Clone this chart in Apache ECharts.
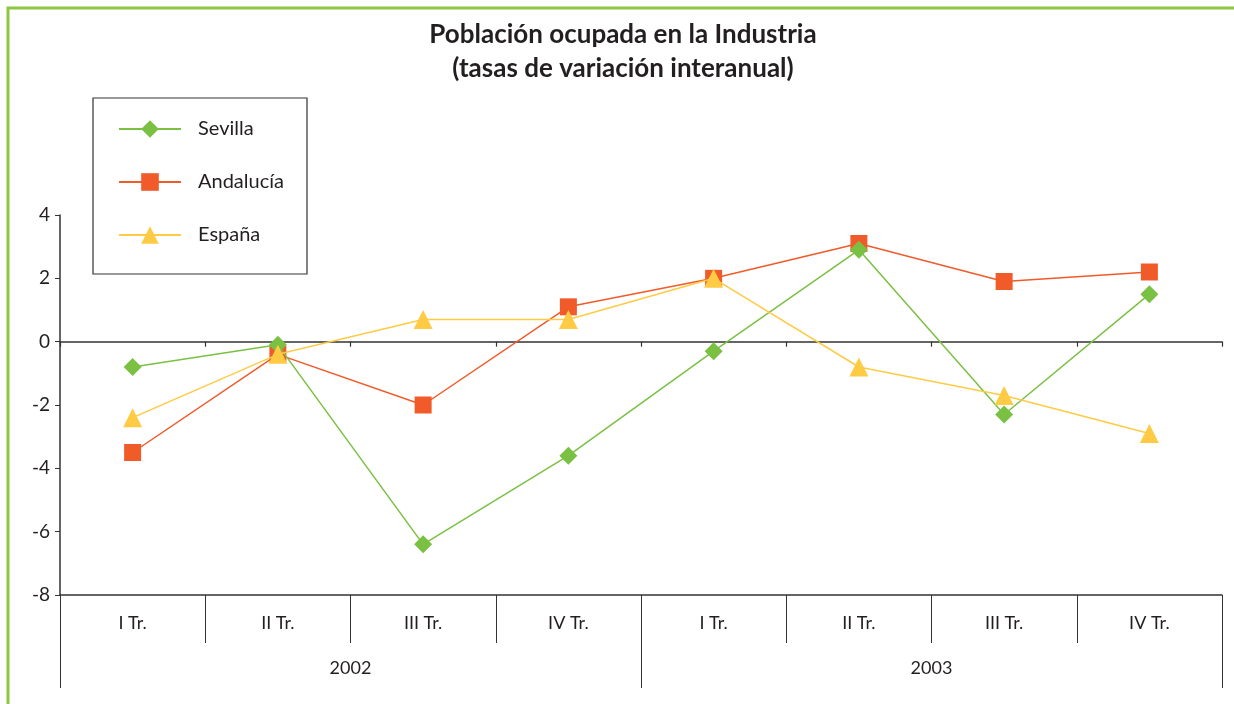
<!DOCTYPE html>
<html>
<head>
<meta charset="utf-8">
<script src="https://cdn.jsdelivr.net/npm/echarts@6/dist/echarts.min.js"></script>
<style>
  html, body { margin: 0; padding: 0; background: #fff; }
  #chart { width: 1234px; height: 704px; }
</style>
</head>
<body>
<div id="chart"></div>
<script>
// datos
var trimestres = ['I Tr.', 'II Tr.', 'III Tr.', 'IV Tr.', 'I Tr.', 'II Tr.', 'III Tr.', 'IV Tr.'];
var anios = ['2002', '2003'];
var sevilla = [-0.8, -0.1, -6.4, -3.6, -0.3, 2.9, -2.3, 1.5];
var andalucia = [-3.5, -0.4, -2.0, 1.1, 2.0, 3.1, 1.9, 2.2];
var espana = [-2.4, -0.4, 0.7, 0.7, 2.0, -0.8, -1.7, -2.9];

var fuente = 'Lato';
var tinta = '#231F20';

var chart = echarts.init(document.getElementById('chart'));

var option = {
  animation: false,
  textStyle: { fontFamily: fuente, color: tinta },
  title: {
    text: 'Población ocupada en la Industria\n(tasas de variación interanual)',
    left: 623,
    top: 18,
    padding: 0,
    textAlign: 'center',
    textStyle: { fontFamily: fuente, fontSize: 26, fontWeight: 'bold', color: tinta, lineHeight: 34 }
  },
  graphic: [
    // marco verde
    {
      type: 'polyline',
      shape: { points: [[8, 704], [8, 8], [1234, 8]] },
      style: { stroke: '#8DC63F', lineWidth: 3, fill: null }
    },
    // caja de la leyenda
    {
      type: 'rect',
      shape: { x: 93, y: 98, width: 214, height: 176 },
      style: { stroke: '#333', lineWidth: 1.2, fill: '#fff' },
      z: 5
    }
  ],
  legend: {
    orient: 'vertical',
    left: 118,
    top: 119,
    padding: 0,
    itemWidth: 62,
    itemHeight: 22,
    itemGap: 33,
    z: 10,
    textStyle: { fontFamily: fuente, fontSize: 20, color: tinta, padding: [0, 0, 0, 12] },
    data: ['Sevilla', 'Andalucía', 'España']
  },
  grid: { left: 60, right: 12, top: 215, bottom: 109, containLabel: false },
  xAxis: [
    {
      type: 'category',
      data: trimestres,
      position: 'bottom',
      axisLine: { onZero: true, lineStyle: { color: '#333', width: 1.5 } },
      axisTick: { show: true, interval: 0, length: 5, lineStyle: { color: '#333', width: 1.2 } },
      axisLabel: { show: false }
    },
    {
      type: 'category',
      data: trimestres,
      position: 'bottom',
      axisLine: { show: true, onZero: false, lineStyle: { color: '#333', width: 1.5 } },
      axisTick: { show: true, interval: 0, length: 48, lineStyle: { color: '#333', width: 1 } },
      axisLabel: { margin: 19, fontSize: 18, color: tinta, fontFamily: fuente }
    },
    {
      type: 'category',
      data: anios,
      position: 'bottom',
      axisLine: { show: false, onZero: false },
      axisTick: { show: true, interval: 0, length: 93, lineStyle: { color: '#333', width: 1 } },
      axisLabel: { margin: 64, fontSize: 18, color: tinta, fontFamily: fuente }
    }
  ],
  yAxis: {
    type: 'value',
    min: -8,
    max: 4,
    interval: 2,
    splitLine: { show: false },
    axisLine: { show: true, lineStyle: { color: '#333', width: 1.5 } },
    axisTick: { show: true, length: 5, lineStyle: { color: '#333' } },
    axisLabel: { margin: 10, fontSize: 19, color: tinta, fontFamily: fuente }
  },
  series: [
    {
      name: 'Sevilla',
      type: 'line',
      data: sevilla,
      symbol: 'diamond',
      symbolSize: 18,
      itemStyle: { color: '#7AC143' },
      lineStyle: { color: '#7AC143', width: 1.5 },
      z: 3
    },
    {
      name: 'Andalucía',
      type: 'line',
      data: andalucia,
      symbol: 'rect',
      symbolSize: 17,
      itemStyle: { color: '#F15A29' },
      lineStyle: { color: '#F15A29', width: 1.5 },
      z: 2
    },
    {
      name: 'España',
      type: 'line',
      data: espana,
      symbol: 'triangle',
      symbolSize: 19,
      itemStyle: { color: '#FFCB44' },
      lineStyle: { color: '#FFCB44', width: 1.5 },
      z: 4
    }
  ]
};

chart.setOption(option);
</script>
</body>
</html>
